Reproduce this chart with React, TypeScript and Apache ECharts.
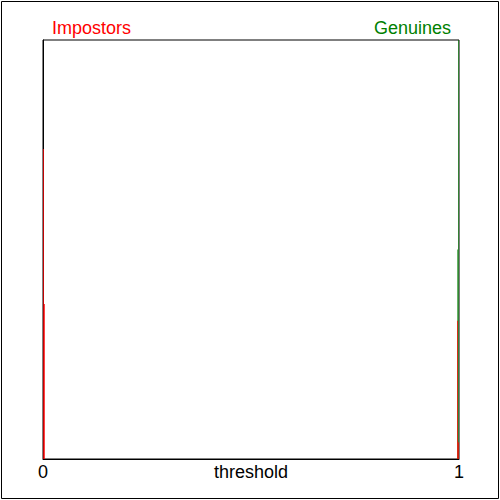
import React, { useEffect, useRef } from "react";
import * as echarts from "echarts";

// Histogram bins: start threshold of each bin, bin width, normalised counts
const binWidth = 1 / 416;
const impostorBins = [0, 1 / 416, 414 / 416, 415 / 416];
const impostorCounts = [0.74, 0.37, 0.33, 0.04];
const genuineBins = [414 / 416, 415 / 416];
const genuineCounts = [0.5, 1.0];
const xTickLabels = ["0", "1"];
const seriesNames = ["Impostors", "Genuines"];

const FONT = "Liberation Sans, Arial, sans-serif";

function binsToData(starts: number[], counts: number[]) {
  return starts.map((s, i) => [s, s + binWidth, counts[i]]);
}

function renderBin(color: string) {
  return (params: any, api: any) => {
    const x0 = api.value(0);
    const x1 = api.value(1);
    const y = api.value(2);
    const p0 = api.coord([x0, y]);
    const p1 = api.coord([x1, 0]);
    return {
      type: "rect",
      shape: { x: p0[0], y: p0[1], width: p1[0] - p0[0], height: p1[1] - p0[1] },
      style: { fill: color },
    };
  };
}

export default function App() {
  const ref = useRef<HTMLDivElement>(null);
  useEffect(() => {
    document.body.style.margin = "0";
    const chart = echarts.init(ref.current!, null, { renderer: "svg" });
    chart.setOption({
      animation: false,
      backgroundColor: "#fff",
      grid: {
        left: 43,
        top: 40,
        width: 416,
        height: 419,
        outerBoundsMode: "none",
        containLabel: false,
        show: true,
        borderColor: "#000",
        borderWidth: 1,
        backgroundColor: "transparent",
      },
      xAxis: {
        type: "value",
        min: 0,
        max: 1,
        interval: 1,
        name: "threshold",
        nameLocation: "middle",
        nameGap: 4,
        nameMoveOverlap: false,
        nameTextStyle: { color: "#000", fontSize: 18, fontFamily: FONT, verticalAlign: "top" },
        axisLine: { show: true, lineStyle: { color: "#000", width: 1 } },
        axisTick: { show: false },
        splitLine: { show: false },
        axisLabel: {
          color: "#000",
          fontSize: 18,
          fontFamily: FONT,
          margin: 4,
          formatter: (v: number) => (v === 0 ? xTickLabels[0] : v === 1 ? xTickLabels[1] : ""),
        },
      },
      yAxis: {
        type: "value",
        min: 0,
        max: 1,
        axisLine: { show: true, lineStyle: { color: "#000", width: 1 } },
        axisTick: { show: false },
        axisLabel: { show: false },
        splitLine: { show: false },
      },
      graphic: [
        {
          type: "rect",
          shape: { x: 1.5, y: 1.5, width: 497, height: 497 },
          style: { fill: "none", stroke: "#000", lineWidth: 1 },
          silent: true,
        },
        {
          type: "text",
          left: 52,
          top: 19,
          style: { text: seriesNames[0], fill: "#ff0000", fontSize: 18, fontFamily: FONT },
        },
        {
          type: "text",
          right: 49,
          top: 19,
          style: { text: seriesNames[1], fill: "#008000", fontSize: 18, fontFamily: FONT },
        },
      ],
      series: [
        {
          name: seriesNames[1],
          type: "custom",
          renderItem: renderBin("rgba(0,128,0,0.6)"),
          data: binsToData(genuineBins, genuineCounts),
          encode: { x: [0, 1], y: 2 },
          z: 3,
        },
        {
          name: seriesNames[0],
          type: "custom",
          renderItem: renderBin("rgba(255,0,0,0.75)"),
          data: binsToData(impostorBins, impostorCounts),
          encode: { x: [0, 1], y: 2 },
          z: 4,
        },
      ],
    });
    return () => chart.dispose();
  }, []);
  return <div ref={ref} style={{ width: 500, height: 500 }} />;
}
